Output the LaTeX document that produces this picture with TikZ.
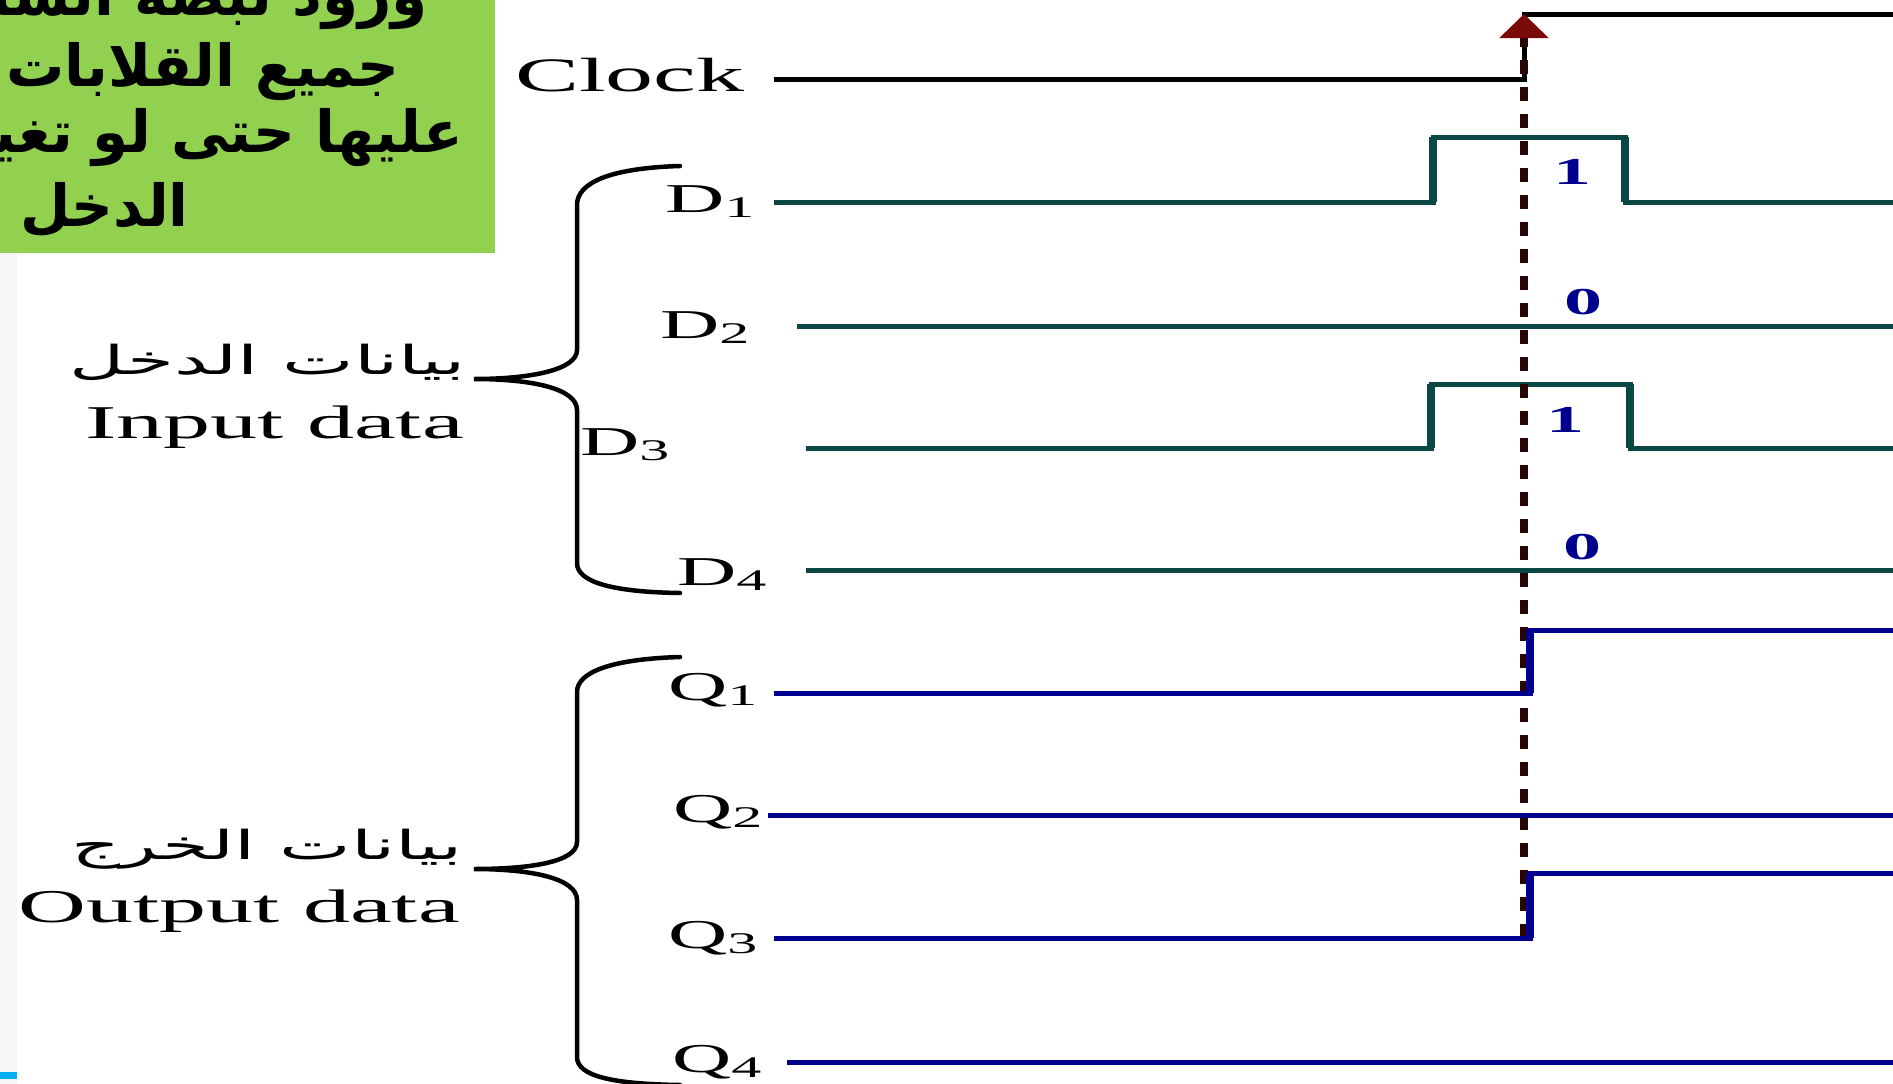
\documentclass[tikz,border=0pt]{standalone}
\usepackage{fontspec}
\usepackage{xcolor}
\usepackage{graphicx}
\usepackage{tikz}
\usetikzlibrary{arrows.meta}
\setmainfont{Liberation Serif}
\newfontfamily\wideserif[FakeStretch=2]{Liberation Serif}
\newfontfamily\arabicfont[Script=Arabic]{DejaVu Sans}
\newfontfamily\widearabic[Script=Arabic,FakeStretch=1.9]{DejaVu Sans}
\TeXXeTstate=1
\definecolor{NoteGreen}{HTML}{92D050}
\definecolor{DataTeal}{HTML}{0B4744}
\definecolor{OutBlue}{HTML}{00008F}
\definecolor{EdgeRed}{HTML}{7A0A0A}
\definecolor{DashDark}{HTML}{2A0505}
\definecolor{SlideGray}{HTML}{F5F6F7}
\definecolor{SlideCyan}{HTML}{00B0F0}
\newcommand{\lowsub}[1]{\raisebox{-5pt}{\fontsize{30}{30}\selectfont #1}}

\begin{document}
\begin{tikzpicture}[x=1pt, y=-1pt,
    sig/.style={inner sep=0pt, anchor=base west, font=\wideserif\fontsize{41}{46}\selectfont},
    bit/.style={inner sep=0pt, text=OutBlue, font=\wideserif\bfseries\fontsize{38}{42}\selectfont},
    grp/.style={inner sep=0pt, anchor=base east, font=\wideserif\fontsize{47}{52}\selectfont},
    grpar/.style={inner sep=0pt, anchor=base east, font=\widearabic\fontsize{40}{46}\selectfont},
    note/.style={inner sep=0pt, anchor=base east, font=\arabicfont\bfseries\fontsize{58}{70}\selectfont},
    wave/.style={line width=5pt},
    flank/.style={line width=8pt},
    brace/.style={line width=4.5pt, line cap=round}
  ]
    \useasboundingbox (0,0) rectangle (1893,1084);
    \clip (0,0) rectangle (1893,1084);

    % slide background and note box
    \fill[SlideGray] (0,253) rectangle (17,1084);
    \fill[SlideCyan] (0,1072) rectangle (17,1079);
    \fill[NoteGreen] (0,0) rectangle (495,253);
    \node[note] (n1) at (428,16) {\beginR ورود نبضة الساعة\endR};
    \node[note] (n2) at (400,86) {\beginR جميع القلابات و\endR};
    \node[note] (n3) at (463,152) {\beginR عليها حتى لو تغير\endR};
    \node[note] (n4) at (189,226) {\beginR الدخل\endR};

    % signal names
    \node[sig, font=\wideserif\fontsize{48}{52}\selectfont] (clk) at (515,91) {Clock};
    \node[sig] (d1) at (665,212) {D\lowsub{1}};
    \node[sig] (d2) at (660,338) {D\lowsub{2}};
    \node[sig] (d3) at (580,455) {D\lowsub{3}};
    \node[sig] (d4) at (677,585) {D\lowsub{4}};
    \node[sig] (q1) at (668,700) {Q\lowsub{1}};
    \node[sig] (q2) at (673,822) {Q\lowsub{2}};
    \node[sig] (q3) at (668,948) {Q\lowsub{3}};
    \node[sig] (q4) at (672,1072) {Q\lowsub{4}};

    % group labels
    \node[grpar] (in-ar) at (466,374) {\beginR بيانات الدخل\endR};
    \node[grp] (in-en) at (464,438) {Input data};
    \node[grpar] (out-ar) at (463,859) {\beginR بيانات الخرج\endR};
    \node[grp] (out-en) at (460,922) {Output data};

    \draw[brace] (680,166) .. controls (612,168) and (577,182) .. (577,205) -- (577,350)
      .. controls (577,370) and (530,379) .. (474,379)
      .. controls (530,379) and (577,388) .. (577,410) -- (577,563)
      .. controls (577,582) and (612,592) .. (680,593);
    \draw[brace] (680,657) .. controls (612,659) and (577,672) .. (577,692) -- (577,842)
      .. controls (577,862) and (530,869) .. (474,869)
      .. controls (530,869) and (577,878) .. (577,900) -- (577,1057)
      .. controls (577,1076) and (612,1084) .. (680,1085);

    % clock and inputs
    \draw[wave] (774,79) -- (1524,79) -- (1524,14) -- (1893,14);
    \draw[wave, DataTeal] (774,202) -- (1433,202) -- (1433,137) -- (1625,137) -- (1625,202) -- (1893,202);
    \draw[flank, DataTeal] (1433,202) -- (1433,137) (1625,137) -- (1625,202);
    \draw[wave, DataTeal] (797,326) -- (1893,326);
    \draw[wave, DataTeal] (806,448) -- (1431,448) -- (1431,384) -- (1630,384) -- (1630,448) -- (1893,448);
    \draw[flank, DataTeal] (1431,448) -- (1431,384) (1630,384) -- (1630,448);
    \draw[wave, DataTeal] (806,570) -- (1893,570);

    \node[bit] (v1) at (1572,172) {1};
    \node[bit] (v2) at (1583,302) {0};
    \node[bit] (v3) at (1565,420) {1};
    \node[bit] (v4) at (1582,547) {0};

    % trigger edge
    \draw[DashDark, line width=8pt, dash pattern=on 14pt off 13pt,
      -{Triangle[length=24pt, width=48pt, color=EdgeRed, fill=EdgeRed]}] (1524,938) -- (1524,14);

    % outputs
    \draw[wave, OutBlue] (774,693) -- (1530,693) -- (1530,630) -- (1893,630);
    \draw[flank, OutBlue] (1530,693) -- (1530,630);
    \draw[wave, OutBlue] (768,815) -- (1893,815);
    \draw[wave, OutBlue] (774,938) -- (1530,938) -- (1530,873) -- (1893,873);
    \draw[flank, OutBlue] (1530,938) -- (1530,873);
    \draw[wave, OutBlue] (787,1062) -- (1893,1062);
  \end{tikzpicture}
\end{document}
